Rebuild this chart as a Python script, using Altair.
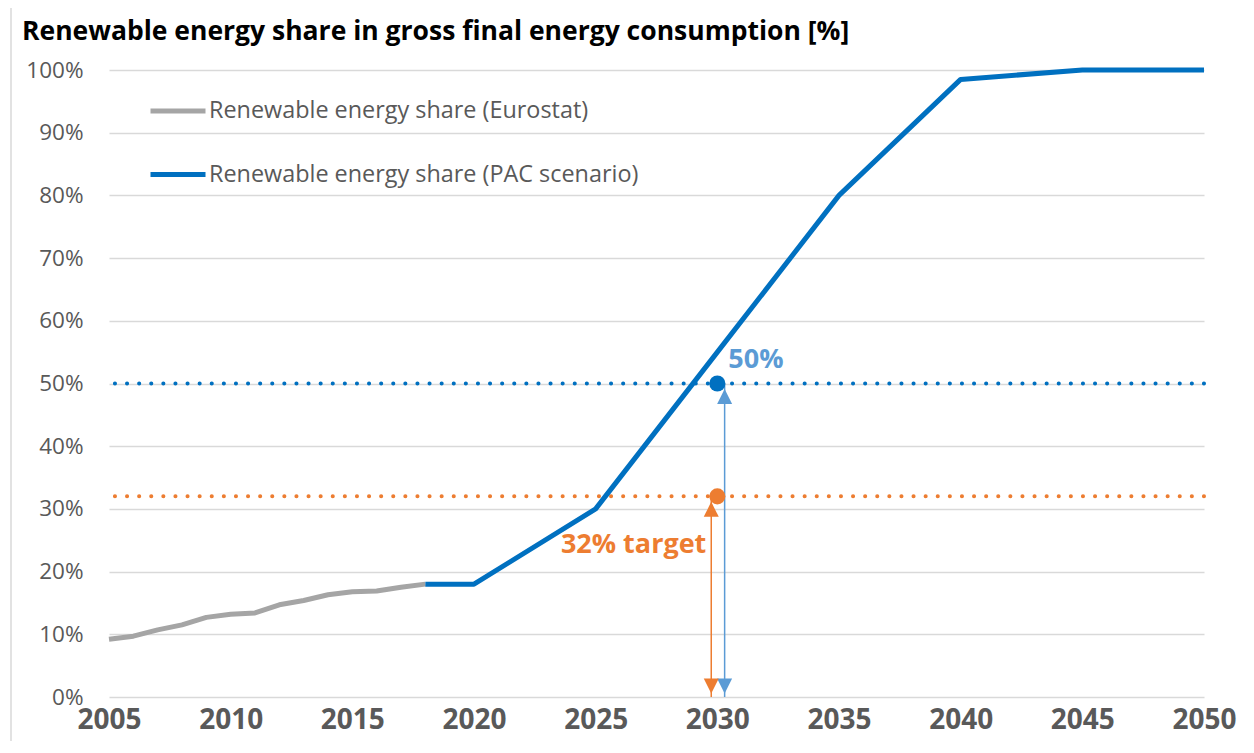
import altair as alt
import pandas as pd

# ---- data ----
eurostat_years = list(range(2005, 2019))
eurostat_share = [9.2, 9.7, 10.7, 11.5, 12.7, 13.2, 13.4, 14.7, 15.4, 16.3, 16.8, 16.9, 17.5, 18.0]
pac_years = [2018, 2020, 2025, 2030, 2035, 2040, 2045, 2050]
pac_share = [18.0, 18.0, 30.0, 55.0, 80.0, 98.5, 100.0, 100.0]
series_names = ["Renewable energy share (Eurostat)", "Renewable energy share (PAC scenario)"]
series_colors = ["#A5A5A5", "#0070C0"]

target_year = 2030
target_values = [50, 32]
target_colors = ["#0070C0", "#ED7D31"]
arrow_years = [2030.3, 2029.75]
arrow_colors = ["#5B9BD5", "#ED7D31"]
label_texts = ["50%", "32% target"]
label_values = [53.7, 24.3]
label_colors = ["#5B9BD5", "#ED7D31"]

x_ticks = list(range(2005, 2051, 5))
y_ticks = list(range(0, 101, 10))

title_text = "Renewable energy share in gross final energy consumption [%]"
FONT = "Open Sans"
AXIS_GREY = "#595959"

# ---- tables ----
lines_df = pd.DataFrame({
    "year": eurostat_years + pac_years,
    "share": eurostat_share + pac_share,
    "series": [series_names[0]] * len(eurostat_years) + [series_names[1]] * len(pac_years),
})
targets_df = pd.DataFrame({
    "year": [target_year] * len(target_values),
    "value": target_values,
    "color": target_colors,
})
arrows_df = pd.DataFrame({
    "year": arrow_years,
    "value": target_values,
    "zero": [0] * len(target_values),
    "color": arrow_colors,
})
labels_df = pd.DataFrame({
    "year": [target_year] * len(label_texts),
    "value": label_values,
    "text": label_texts,
    "color": label_colors,
})

xscale = alt.Scale(domain=[2005, 2050], nice=False, zero=False)
yscale = alt.Scale(domain=[0, 100], nice=False)

x_axis = alt.Axis(values=x_ticks, format="d", grid=False, domain=False, ticks=False,
                  labelFontSize=28, labelFontWeight="bold", labelColor=AXIS_GREY,
                  labelFont=FONT, labelPadding=9, labelFlush=False, labelOverlap=False,
                  title=None)
y_axis = alt.Axis(values=y_ticks, labelExpr="datum.value + '%'", grid=True,
                  gridColor="#D9D9D9", gridWidth=1.5, domain=False, ticks=False,
                  labelFontSize=22.5, labelColor=AXIS_GREY, labelFont=FONT,
                  labelPadding=26, labelFlush=False, title=None)

frame = alt.Chart(pd.DataFrame({"k": [0]})).mark_rect(
    fillOpacity=0, stroke="#D9D9D9", strokeWidth=1.5
).encode(x=alt.value(-98), x2=alt.value(1400), y=alt.value(-63), y2=alt.value(900))

dotted = alt.Chart(targets_df).mark_rule(
    strokeWidth=4, strokeDash=[0.1, 12], strokeCap="round"
).encode(
    y=alt.Y("value:Q", scale=yscale, axis=y_axis),
    color=alt.Color("color:N", scale=None),
)

lines = alt.Chart(lines_df).mark_line(strokeWidth=5, strokeJoin="round").encode(
    x=alt.X("year:Q", scale=xscale, axis=x_axis),
    y=alt.Y("share:Q", scale=yscale, axis=y_axis),
    color=alt.Color("series:N", scale=alt.Scale(domain=series_names, range=series_colors),
                    legend=alt.Legend(title=None, orient="none", legendX=39, legendY=11,
                                      symbolType="stroke", symbolSize=3025,
                                      symbolStrokeWidth=5, labelFontSize=23.4,
                                      labelColor=AXIS_GREY, labelFont=FONT,
                                      labelOffset=1, rowPadding=21.5, labelLimit=600)),
    order="year:Q",
)

arrow_rules = alt.Chart(arrows_df).mark_rule(strokeWidth=1.5).encode(
    x=alt.X("year:Q", scale=xscale),
    y=alt.Y("zero:Q", scale=yscale),
    y2="value:Q",
    color=alt.Color("color:N", scale=None),
)

UP = "M0,-1L1,1L-1,1Z"
DOWN = "M0,1L1,-1L-1,-1Z"
heads_up = alt.Chart(arrows_df).mark_point(shape=UP, filled=True, size=225, opacity=1,
                                            yOffset=13).encode(
    x=alt.X("year:Q", scale=xscale),
    y=alt.Y("value:Q", scale=yscale),
    color=alt.Color("color:N", scale=None),
)
heads_down = alt.Chart(arrows_df).mark_point(shape=DOWN, filled=True, size=225, opacity=1,
                                              yOffset=-11).encode(
    x=alt.X("year:Q", scale=xscale),
    y=alt.Y("zero:Q", scale=yscale),
    color=alt.Color("color:N", scale=None),
)

dots = alt.Chart(targets_df).mark_circle(size=260, opacity=1).encode(
    x=alt.X("year:Q", scale=xscale),
    y=alt.Y("value:Q", scale=yscale),
    color=alt.Color("color:N", scale=None),
)

label_50 = alt.Chart(labels_df.iloc[[0]]).mark_text(
    align="left", baseline="middle", dx=11, fontSize=27, fontWeight="bold", font=FONT
).encode(
    x=alt.X("year:Q", scale=xscale),
    y=alt.Y("value:Q", scale=yscale),
    text="text:N",
    color=alt.Color("color:N", scale=None),
)
label_32 = alt.Chart(labels_df.iloc[[1]]).mark_text(
    align="right", baseline="middle", dx=-11, fontSize=27, fontWeight="bold", font=FONT
).encode(
    x=alt.X("year:Q", scale=xscale),
    y=alt.Y("value:Q", scale=yscale),
    text="text:N",
    color=alt.Color("color:N", scale=None),
)

chart = alt.layer(
    frame, dotted, lines, arrow_rules, heads_up, heads_down, dots, label_50, label_32
).properties(
    width=1095,
    height=627,
    autosize=alt.AutoSizeParams(type="none"),
    padding={"left": 101, "top": 62, "right": 42, "bottom": 44},
    title=alt.TitleParams(title_text, anchor="start", frame="group", fontSize=26.5,
                          fontWeight="bold", color="#000000", font=FONT,
                          baseline="alphabetic", dx=-87, dy=64),
).configure_view(strokeWidth=0)

chart.save("out.html", embed_options={"renderer": "svg", "actions": False})
